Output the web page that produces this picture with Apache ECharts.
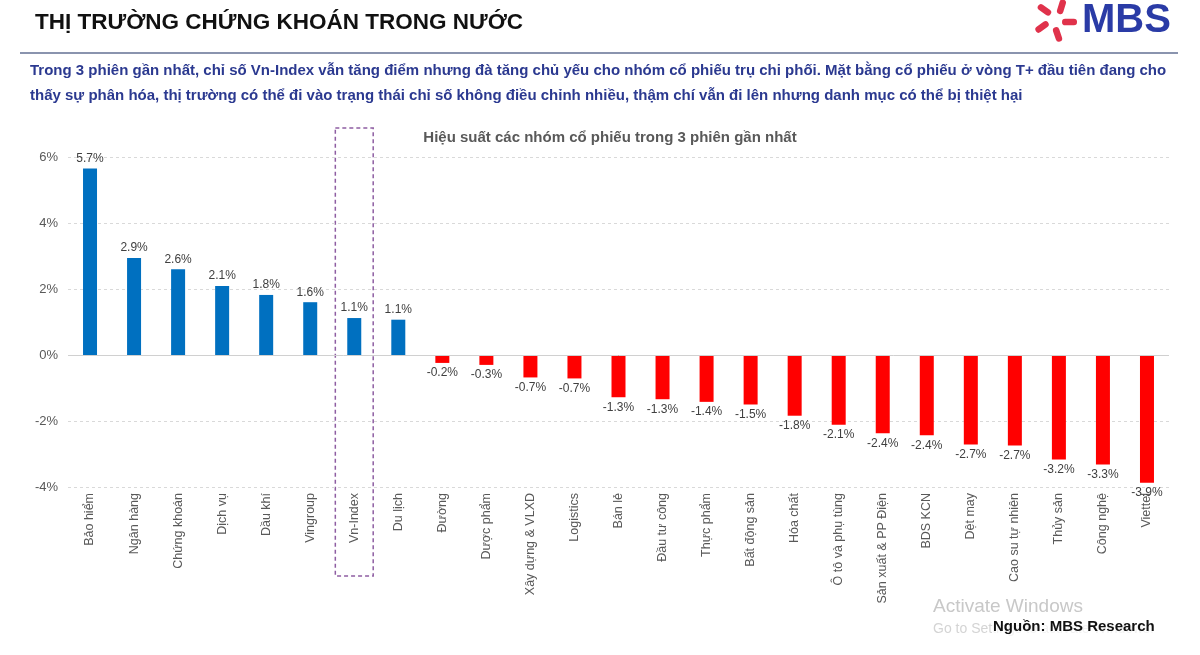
<!DOCTYPE html>
<html>
<head>
<meta charset="utf-8">
<script src="https://cdn.jsdelivr.net/npm/echarts@6/dist/echarts.min.js"></script>
<style>
  html, body { margin: 0; padding: 0; background: #fff; }
  #main { width: 1200px; height: 655px; }
</style>
</head>
<body>
<div id="main"></div>
<script>
// nhóm cổ phiếu
var categories = ['Bảo hiểm', 'Ngân hàng', 'Chứng khoán', 'Dịch vụ', 'Dầu khí', 'Vingroup', 'Vn-Index', 'Du lịch',
  'Đường', 'Dược phẩm', 'Xây dựng & VLXD', 'Logistics', 'Bán lẻ', 'Đầu tư công', 'Thực phẩm', 'Bất động sản',
  'Hóa chất', 'Ô tô và phụ tùng', 'Sản xuất & PP Điện', 'BDS KCN', 'Dệt may', 'Cao su tự nhiên', 'Thủy sản',
  'Công nghệ', 'Viettel'];
// hiệu suất 3 phiên (%)
var perf = [5.65, 2.94, 2.6, 2.09, 1.82, 1.6, 1.12, 1.07,
  -0.24, -0.3, -0.68, -0.71, -1.28, -1.34, -1.42, -1.5,
  -1.84, -2.11, -2.37, -2.43, -2.71, -2.74, -3.17, -3.32, -3.87];
var yTicks = [-4, -2, 0, 2, 4, 6];

var FONT = '"Liberation Sans", Arial, sans-serif';
var BLUE = '#0070C0', RED = '#FF0000';

var chart = echarts.init(document.getElementById('main'));

// logo ngôi sao MBS
function starPetals() {
  var res = [];
  for (var i = 0; i < 5; i++) {
    res.push({
      type: 'rect',
      x: 1055, y: 20,
      rotation: -i * Math.PI * 2 / 5 - 0.3,
      shape: { x: -1, y: -22, width: 6.5, height: 15, r: 3.2 },
      style: { fill: '#E0324B' }
    });
  }
  return res;
}

var headerGraphics = [
  { type: 'text', left: 35, top: 11,
    style: { text: 'THỊ TRƯỜNG CHỨNG KHOÁN TRONG NƯỚC', font: 'bold 22.5px ' + FONT, fill: '#111' } },
  { type: 'line', shape: { x1: 20, y1: 53, x2: 1178, y2: 53 },
    style: { stroke: '#8A94AE', lineWidth: 2 } },
  { type: 'text', left: 30, top: 63,
    style: { text: 'Trong 3 phiên gần nhất, chỉ số Vn-Index vẫn tăng điểm nhưng đà tăng chủ yếu cho nhóm cổ phiếu trụ chi phối. Mặt bằng cổ phiếu ở vòng T+ đầu tiên đang cho',
      font: 'bold 15px ' + FONT, fill: '#2B3990' } },
  { type: 'text', left: 30, top: 88,
    style: { text: 'thấy sự phân hóa, thị trường có thể đi vào trạng thái chỉ số không điều chỉnh nhiều, thậm chí vẫn đi lên nhưng danh mục có thể bị thiệt hại',
      font: 'bold 15px ' + FONT, fill: '#2B3990' } },
  { type: 'text', left: 1082, top: 1,
    style: { text: 'MBS', font: 'bold 40px ' + FONT, fill: '#2A3BA6' } },
  { type: 'group', children: starPetals() },
  { type: 'text', left: 933, top: 597,
    style: { text: 'Activate Windows', font: '19px ' + FONT, fill: '#c8c8c8' } },
  { type: 'text', left: 933, top: 622,
    style: { text: 'Go to Settings to activate Windows.', font: '14px ' + FONT, fill: '#d4d4d4' } },
  { type: 'rect', shape: { x: 992, y: 618, width: 168, height: 20 }, style: { fill: 'rgba(255,255,255,0.7)' } },
  { type: 'text', left: 993, top: 619,
    style: { text: 'Nguồn: MBS Research', font: 'bold 15px ' + FONT, fill: '#111' } }
];

chart.setOption({
  animation: false,
  backgroundColor: '#fff',
  textStyle: { fontFamily: FONT },
  title: {
    text: 'Hiệu suất các nhóm cổ phiếu trong 3 phiên gần nhất',
    left: 605, top: 125, textAlign: 'center',
    textStyle: { fontSize: 15, fontWeight: 'bold', color: '#595959', fontFamily: FONT }
  },
  grid: { left: 68, right: 31, top: 157, bottom: 168, containLabel: false },
  xAxis: {
    type: 'category',
    data: categories,
    axisLine: { show: false },
    axisTick: { show: false },
    axisLabel: { interval: 0, rotate: 90, color: '#595959', fontSize: 12.5, margin: 6, fontFamily: FONT }
  },
  yAxis: {
    type: 'value',
    min: -4, max: 6, interval: 2,
    axisLine: { show: false },
    axisTick: { show: false },
    axisLabel: { color: '#595959', fontSize: 13, margin: 10, fontFamily: FONT,
      formatter: function (v) { return yTicks.indexOf(v) >= 0 ? v + '%' : ''; } },
    splitLine: { lineStyle: { color: '#D9D9D9', type: [3, 3] } }
  },
  series: [{
    type: 'bar',
    data: perf.map(function (v) {
      return {
        value: v,
        itemStyle: { color: v >= 0 ? BLUE : RED },
        label: { position: v >= 0 ? 'top' : 'bottom' }
      };
    }),
    barWidth: 14,
    label: {
      show: true, color: '#404040', fontSize: 12, distance: 4, fontFamily: FONT,
      formatter: function (p) { return p.value.toFixed(1) + '%'; }
    },
    markLine: {
      silent: true, symbol: 'none', label: { show: false },
      lineStyle: { color: '#D0D0D0', type: 'solid', width: 1 },
      data: [{ yAxis: 0 }]
    }
  }],
  graphic: headerGraphics
});

// khung nét đứt quanh Vn-Index
var cx = chart.convertToPixel({ xAxisIndex: 0 }, 'Vn-Index');
var band = chart.convertToPixel({ xAxisIndex: 0 }, categories[1]) - chart.convertToPixel({ xAxisIndex: 0 }, categories[0]);
var boxW = band * 0.86;
chart.setOption({
  graphic: headerGraphics.concat([{
    type: 'rect',
    shape: { x: cx - boxW / 2, y: 128, width: boxW, height: 448 },
    style: { fill: 'none', stroke: '#8E5EA2', lineWidth: 1.5, lineDash: [4, 3] }
  }])
});
</script>
</body>
</html>
